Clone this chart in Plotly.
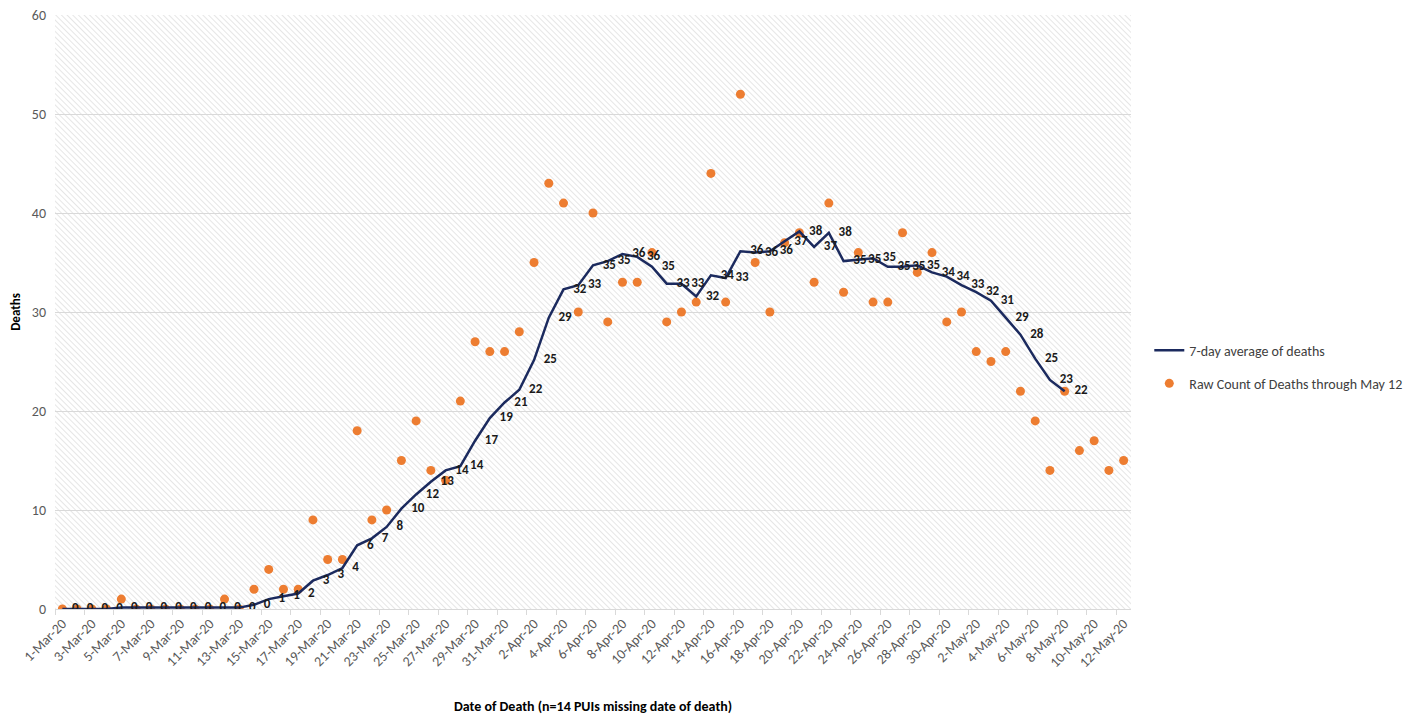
import base64
import pandas as pd
import plotly.graph_objects as go

# ---- data -------------------------------------------------------------
dates = pd.date_range("2020-03-01", "2020-05-12", freq="D")
categories = [f"{d.day}-{d.strftime('%b')}-{d.strftime('%y')}" for d in dates]

raw_deaths = [0, 0, 0, 0, 1, 0, 0, 0, 0, 0, 0, 1, 0, 2, 4, 2, 2, 9, 5, 5,
              18, 9, 10, 15, 19, 14, 13, 21, 27, 26, 26, 28, 35, 43, 41, 30, 40, 29, 33, 33,
              36, 29, 30, 31, 44, 31, 52, 35, 30, 37, 38, 33, 41, 32, 36, 31, 31, 38, 34, 36,
              29, 30, 26, 25, 26, 22, 19, 14, 22, 16, 17, 14, 15]

avg_deaths = [0, 0, 0, 0, 0.14, 0.14, 0.14, 0.14, 0.14, 0.14, 0.14, 0.14, 0.14, 0.43,
              1.00, 1.29, 1.57, 2.86, 3.43, 4.14, 6.43, 7.14, 8.29, 10.14, 11.57, 12.86,
              14.00, 14.43, 17.00, 19.29, 20.86, 22.14, 25.14, 29.43, 32.29, 32.71, 34.71,
              35.14, 35.86, 35.57, 34.57, 32.86, 32.86, 31.57, 33.71, 33.43, 36.14, 36.00,
              36.14, 37.14, 38.14, 36.57, 38.00, 35.14, 35.29, 35.43, 34.57, 34.57, 34.71,
              34.00, 33.57, 32.71, 32.00, 31.14, 29.43, 27.71, 25.29, 23.14, 22.00]
avg_categories = categories[:len(avg_deaths)]
avg_labels = [str(int(round(v))) for v in avg_deaths]

y_ticks = [0, 10, 20, 30, 40, 50, 60]

# ---- style --------------------------------------------------------------
FONT = "Carlito, Lato, 'Liberation Sans', sans-serif"
NAVY = "#1b2a5e"
ORANGE = "#ED7D31"

# hatched plot-area background as an inline SVG image
svg = ("<svg xmlns='http://www.w3.org/2000/svg' width='1076' height='594'>"
       "<defs><pattern id='p' width='4' height='4' patternUnits='userSpaceOnUse' "
       "patternTransform='rotate(-45)'>"
       "<line x1='0' y1='0' x2='0' y2='4' stroke='#d8d8d8' stroke-width='1.3'/>"
       "</pattern></defs>"
       "<rect width='100%' height='100%' fill='white'/>"
       "<rect width='100%' height='100%' fill='url(#p)'/></svg>")
svg_uri = "data:image/svg+xml;base64," + base64.b64encode(svg.encode()).decode()

fig = go.Figure()

fig.add_trace(go.Scatter(
    x=categories, y=raw_deaths, mode="markers",
    name="Raw Count of Deaths through May 12",
    marker=dict(color=ORANGE, size=9),
    legendrank=2, legendgroup="raw",
))

fig.add_trace(go.Scatter(
    x=avg_categories, y=avg_deaths, mode="lines",
    name="7-day average of deaths",
    line=dict(color=NAVY, width=2.5),
    legendrank=1, legendgroup="avg",
))

fig.add_trace(go.Scatter(
    x=avg_categories, y=avg_deaths, mode="markers+text",
    text=avg_labels, textposition="middle right",
    textfont=dict(family=FONT, size=13, color="#1a1a1a", weight="bold"),
    marker=dict(size=14, color="rgba(0,0,0,0)"),
    showlegend=False, hoverinfo="skip",
))

# the page body adds an 8px offset, so margins are reduced by 8px
fig.update_layout(
    width=1422, height=715,
    margin=dict(l=47, r=299, t=7, b=114, autoexpand=False),
    paper_bgcolor="white", plot_bgcolor="white",
    font=dict(family=FONT, size=13, color="#595959"),
    showlegend=True,
    legend=dict(x=1.017, y=0.462, xanchor="left", yanchor="top",
                font=dict(family=FONT, size=14, color="#404040"),
                traceorder="grouped", tracegroupgap=12, itemwidth=30,
                bgcolor="rgba(0,0,0,0)"),
    images=[dict(source=svg_uri, xref="paper", yref="paper", x=0, y=1,
                 sizex=1, sizey=1, xanchor="left", yanchor="top",
                 sizing="stretch", layer="below")],
    shapes=[dict(type="line", xref="paper", yref="paper",
                 x0=1.2658, x1=1.2658, y0=-0.2, y1=1.02,
                 line=dict(color="#d0d0d0", width=1))],
)

fig.update_xaxes(
    type="category", categoryorder="array", categoryarray=categories,
    range=[-0.5, len(categories) - 0.5],
    tickmode="linear", tick0=0, dtick=2, tickangle=-45,
    tickfont=dict(family=FONT, size=14, color="#595959"),
    tickson="boundaries", ticks="outside", ticklen=5, tickcolor="#d9d9d9",
    showgrid=False, showline=True, linecolor="#d9d9d9", linewidth=1,
    zeroline=False, automargin=False,
    title=dict(text="<b>Date of Death (n=14 PUIs missing date of death)</b>",
               font=dict(family=FONT, size=14, color="#000000"), standoff=31),
)

fig.update_yaxes(
    range=[0, 60], tickvals=y_ticks, ticklabeloverflow="allow",
    ticklabelstandoff=8,
    tickfont=dict(family=FONT, size=14, color="#595959"),
    showgrid=True, gridcolor="#d9d9d9", gridwidth=1.3,
    zeroline=False, showline=False, ticks="", automargin=False,
    title=dict(text="<b>Deaths</b>",
               font=dict(family=FONT, size=13, color="#000000"), standoff=14),
)

fig.write_html("out.html")
